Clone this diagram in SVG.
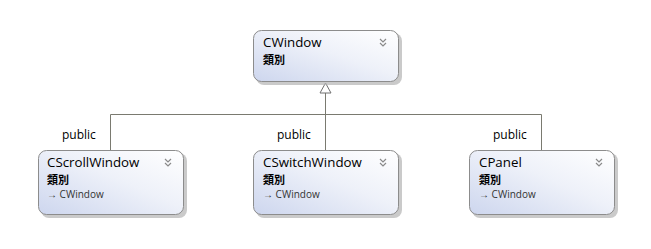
<svg xmlns="http://www.w3.org/2000/svg" width="651" height="249" viewBox="0 0 651 249">
  <defs>
    <linearGradient id="boxFill" x1="0" y1="1" x2="1" y2="0">
      <stop offset="0" stop-color="#cdd6ee"/>
      <stop offset="0.55" stop-color="#eef1f9"/>
      <stop offset="1" stop-color="#ffffff"/>
    </linearGradient>
  </defs>
  <style>
    .shadow { fill: #b4b4b4; opacity: 0.7; }
    .box { fill: url(#boxFill); stroke: #8c8c8c; stroke-width: 1; }
    .name { font-family: "Open Sans", "Liberation Sans", sans-serif; font-size: 13.3px; fill: #000; }
    .kind { font-family: "Noto Sans CJK TC", "Noto Sans CJK SC", sans-serif; font-size: 11px; font-weight: bold; fill: #000; }
    .base { font-family: "Open Sans", "Liberation Sans", sans-serif; font-size: 10px; fill: #333; }
    .chev { fill: none; stroke: #8a8a8a; stroke-width: 1.2; }
    .conn { fill: none; stroke: #7a7a70; stroke-width: 1; }
    .head { fill: #ffffff; stroke: #707070; stroke-width: 1; }
    .label { font-family: "Open Sans", "Liberation Sans", sans-serif; font-size: 12px; fill: #000; }
  </style>
  <rect width="651" height="249" fill="#ffffff"/>

  <!-- inheritance connectors: three subclasses join into one generalization arrow -->
  <g id="connectors">
    <path class="conn" d="M325.5,150 V93"/>
    <path class="conn" d="M110.5,150 V114.5 H541.5 V150"/>
    <path class="head" d="M325.5,83 L331,93 L320,93 Z"/>
    <text class="label" x="62" y="139">public</text>
    <text class="label" x="277" y="139">public</text>
    <text class="label" x="493" y="139">public</text>
  </g>

  <g id="CWindow">
    <rect class="shadow" x="256" y="33" width="146" height="52" rx="8"/>
    <rect class="box" x="253.5" y="30.5" width="145" height="51" rx="8"/>
    <text class="name" x="263" y="47">CWindow</text>
    <text class="kind" x="263" y="63.5">類別</text>
    <path class="chev" d="M380,39 l3,3 l3,-3 M380,43 l3,3 l3,-3"/>
  </g>

  <g id="CScrollWindow">
    <rect class="shadow" x="41" y="153" width="146" height="65" rx="8"/>
    <rect class="box" x="38.5" y="150.5" width="145" height="64" rx="8"/>
    <text class="name" x="47" y="167">CScrollWindow</text>
    <text class="kind" x="47" y="183.5">類別</text>
    <text class="base" x="47" y="197.5">→ CWindow</text>
    <path class="chev" d="M165,159 l3,3 l3,-3 M165,163 l3,3 l3,-3"/>
  </g>

  <g id="CSwitchWindow">
    <rect class="shadow" x="256" y="153" width="146" height="65" rx="8"/>
    <rect class="box" x="253.5" y="150.5" width="145" height="64" rx="8"/>
    <text class="name" x="263" y="167">CSwitchWindow</text>
    <text class="kind" x="263" y="183.5">類別</text>
    <text class="base" x="263" y="197.5">→ CWindow</text>
    <path class="chev" d="M380,159 l3,3 l3,-3 M380,163 l3,3 l3,-3"/>
  </g>

  <g id="CPanel">
    <rect class="shadow" x="472" y="153" width="146" height="65" rx="8"/>
    <rect class="box" x="469.5" y="150.5" width="145" height="64" rx="8"/>
    <text class="name" x="479" y="167">CPanel</text>
    <text class="kind" x="479" y="183.5">類別</text>
    <text class="base" x="479" y="197.5">→ CWindow</text>
    <path class="chev" d="M596,159 l3,3 l3,-3 M596,163 l3,3 l3,-3"/>
  </g>
</svg>
